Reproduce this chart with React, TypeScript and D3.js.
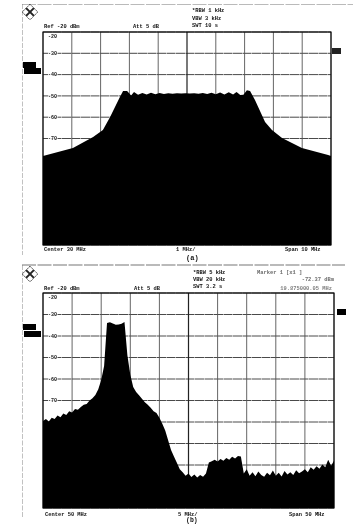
import React from "react";
import * as d3 from "d3";

const levelTicks = [-20, -30, -40, -50, -60, -70, -80, -90, -100, -110, -120];
const labelledTicksA = [-20, -30, -40, -50, -60, -70];
const labelledTicksB = [-20, -30, -40, -50, -60, -70];

const freqA = [25, 26.04, 26.74, 27.08, 27.33, 27.67, 27.78, 27.92, 28.06, 28.16, 28.3, 28.45, 28.6, 28.75, 28.9, 29.05, 29.2, 29.35, 29.5, 29.65, 29.8, 29.95, 30.1, 30.25, 30.4, 30.55, 30.7, 30.85, 31, 31.15, 31.3, 31.45, 31.6, 31.72, 31.85, 31.96, 32.08, 32.19, 32.36, 32.71, 32.95, 33.3, 33.99, 34.9, 35];
const levelA = [-78.2, -74.5, -69.3, -66, -59.9, -50.5, -47.7, -47.7, -49.8, -48.2, -49.5, -48.6, -49.3, -48.5, -49.2, -48.6, -49.1, -48.7, -49, -48.8, -48.9, -48.8, -48.9, -48.7, -49, -48.6, -49.1, -48.5, -49.2, -48.4, -49.3, -48.3, -49.4, -48.2, -49.6, -49.5, -47.3, -47.7, -51.9, -62.3, -66, -69.8, -74.5, -77.7, -78.2];

const freqStartB = 25;
const freqStepB = 0.5;
const levelB = [
  -79.5, -78.6, -79.8, -78, -78.6, -77, -77.8, -76, -76.8, -75, -75.6, -74, -74.3, -73, -72, -71.6, -70, -69, -67.4, -64.8,
  -60.5, -54, -34, -33.6, -34.2, -34.8, -34.6, -34.3, -33.5, -49, -58, -63.7, -66, -67.6, -69.2, -70.8, -72, -73.4, -75, -75.8,
  -78, -80.8, -84, -88.5, -93, -96, -99, -102, -103.4, -105, -104, -105.6, -104.4, -105.8, -104.6, -105.5, -104, -98.8, -98.2, -97.6,
  -98.4, -97.2, -98, -96.8, -97.6, -96.2, -97, -95.8, -96, -104, -102, -105, -103.4, -105.2, -103, -104.6, -105.5, -103.6, -104.8, -102.6,
  -105, -103.6, -105.4, -102.8, -104.4, -103.4, -104.6, -102.4, -103.8, -103, -102, -103.4, -101, -102.2, -100.6, -101.8, -99.8, -101, -97.6, -100.4, -98,
];
const freqB = levelB.map((_, i) => freqStartB + i * freqStepB);

const headerA = ["*RBW 1 kHz", "VBW 3 kHz", "SWT 10 s"];
const headerB = ["*RBW 5 kHz", "VBW 20 kHz", "SWT 3.2 s"];
const markerB = ["Marker 1 [x1 ]", "-72.37 dBm", "19.875000.05 MHz"];

const FONT = "'Liberation Mono', monospace";
const INK = "#111";

type PanelProps = {
  left: number; right: number; top: number; bottom: number;
  fMin: number; fMax: number; freq: number[]; level: number[];
  labels: number[];
};

function Panel({ left, right, top, bottom, fMin, fMax, freq, level, labels }: PanelProps) {
  const x = d3.scaleLinear().domain([fMin, fMax]).range([left, right]);
  const y = d3.scaleLinear().domain([-20, -120]).range([top, bottom]);
  const area = d3.area<number>()
    .x((_, i) => x(freq[i]))
    .y0(bottom)
    .y1((d) => y(d))
    .curve(d3.curveLinear);
  const xTicks = d3.range(11).map((i) => fMin + (i * (fMax - fMin)) / 10);
  return (
    <g>
      {levelTicks.map((t) => (
        <line key={t} x1={left} x2={right} y1={y(t)} y2={y(t)} stroke="#333" strokeWidth={0.9} strokeDasharray="9 0.5" />
      ))}
      {xTicks.map((t, i) => (
        <line key={t} x1={x(t)} x2={x(t)} y1={top} y2={bottom} stroke={i === 5 ? "#222" : "#555"} strokeWidth={i === 5 ? 1.2 : 0.9} />
      ))}
      <path d={area(level) ?? ""} fill="#000" />
      <rect x={left} y={top} width={right - left} height={bottom - top} fill="none" stroke="#000" strokeWidth={1.1} />
      {labels.map((t) => (
        <text key={t} x={left + 5} y={y(t) + (t === -20 ? 6 : 1.8)} fontSize={5} fontWeight="bold" fontFamily={FONT} fill={INK}
          stroke="#fff" strokeWidth={1.6} paintOrder="stroke">{t}</text>
      ))}
    </g>
  );
}

function Logo({ cx, cy }: { cx: number; cy: number }) {
  return (
    <g transform={`translate(${cx},${cy}) rotate(45)`} stroke="#222" fill="none">
      <rect x={-5.5} y={-5.5} width={11} height={11} strokeWidth={0.8} strokeDasharray="2 0.8" />
      <line x1={-5.5} x2={5.5} y1={0} y2={0} strokeWidth={2} />
      <line x1={0} x2={0} y1={-5.5} y2={5.5} strokeWidth={2} />
    </g>
  );
}

function T({ x, y, s, o = 1, size = 5.4, anchor = "start" }: { x: number; y: number; s: string; o?: number; size?: number; anchor?: string }) {
  return <text x={x} y={y} fontSize={size} fontWeight="bold" fontFamily={FONT} fill={INK} opacity={o} textAnchor={anchor as any}>{s}</text>;
}

export default function App() {
  return (
    <svg width={353} height={524} viewBox="0 0 353 524" style={{ position: "absolute", left: 0, top: 0, background: "#fff" }}>
      <defs>
        <filter id="soft" x="0" y="0" width="100%" height="100%">
          <feGaussianBlur stdDeviation="0.4" />
        </filter>
      </defs>
      <rect width={353} height={524} fill="#fff" />
      <g filter="url(#soft)">
        <line x1={22} x2={353} y1={4} y2={4} stroke="#666" strokeWidth={0.9} strokeDasharray="14 1.5" />
        <line x1={22} x2={22} y1={4} y2={255} stroke="#777" strokeWidth={0.9} strokeDasharray="5 1.5" />
        <line x1={22} x2={345} y1={265} y2={265} stroke="#666" strokeWidth={0.9} strokeDasharray="14 1.5" />
        <line x1={22} x2={22} y1={265} y2={518} stroke="#777" strokeWidth={0.9} strokeDasharray="5 1.5" />

        <Logo cx={30} cy={12} />
        <Logo cx={30} cy={274} />

        <Panel left={43} right={331} top={32} bottom={245} fMin={25} fMax={35} freq={freqA} level={levelA} labels={labelledTicksA} />
        <Panel left={43} right={334} top={293} bottom={508} fMin={25} fMax={75} freq={freqB} level={levelB} labels={labelledTicksB} />

        {headerA.map((s, i) => <T key={s} x={192} y={12 + i * 7.6} s={s} />)}
        <T x={44} y={28} s="Ref -20 dBm" />
        <T x={133} y={28} s="Att  5 dB" />
        <T x={44} y={251} s="Center 30 MHz" />
        <T x={176} y={251} s="1 MHz/" />
        <T x={285} y={251} s="Span 10 MHz" />
        <T x={186} y={260} s="(a)" size={7} />

        {headerB.map((s, i) => <T key={s} x={193} y={274 + i * 7.2} s={s} />)}
        <T x={44} y={290} s="Ref -20 dBm" />
        <T x={134} y={290} s="Att  5 dB" />
        <T x={257} y={274} s={markerB[0]} o={0.65} />
        <T x={334} y={281} s={markerB[1]} o={0.65} anchor="end" />
        <T x={332} y={290} s={markerB[2]} o={0.55} anchor="end" />
        <T x={45} y={516} s="Center 50 MHz" />
        <T x={178} y={516} s="5 MHz/" />
        <T x={289} y={516} s="Span 50 MHz" />
        <T x={186} y={522} s="(b)" size={6.5} />

        <rect x={23} y={62} width={13} height={6} fill="#000" />
        <rect x={24} y={68} width={17} height={6} fill="#000" />
        <rect x={23} y={324} width={13} height={6} fill="#000" />
        <rect x={24} y={331} width={17} height={6} fill="#000" />
        <rect x={332} y={48} width={9} height={6} fill="#222" />
        <rect x={337} y={309} width={9} height={6} fill="#000" />
      </g>
    </svg>
  );
}
